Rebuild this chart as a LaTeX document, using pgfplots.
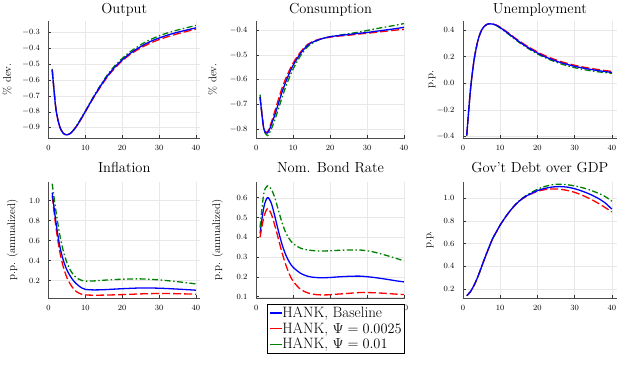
\documentclass[border=0pt]{standalone}
\usepackage{pgfplots}
\pgfplotsset{compat=1.18}
\definecolor{jblue}{RGB}{0,0,255}
\definecolor{jred}{RGB}{255,0,0}
\definecolor{jgreen}{RGB}{0,128,0}

\pgfplotsset{
  irf/.style={
    scale only axis, anchor=south west,
    axis x line*=bottom, axis y line*=left,
    axis line style={black!70, line width=0.9pt, -},
    grid=major, grid style={black!9, line width=0.4pt},
    major tick length=3pt, tick align=inside,
    tick style={black!80, line width=0.5pt},
    xtick={0,10,20,30,40},
    tick label style={font=\fontsize{8}{9}\selectfont},
    xticklabel style={yshift=-4pt},
    yticklabel style={xshift=-5pt, /pgf/number format/.cd, fixed, fixed zerofill, precision=1},
    title style={font=\fontsize{14.5}{16}\selectfont, at={(axis description cs:0.5,1)}, anchor=center},
    ylabel style={font=\fontsize{11}{12}\selectfont, at={(axis description cs:0,0.5)}, anchor=center},
    every axis plot/.append style={line width=1.3pt, smooth, no markers},
  },
  bl/.style={jblue, solid},
  rd/.style={jred, dash pattern=on 8pt off 3pt},
  gr/.style={jgreen, dash pattern=on 6pt off 2.5pt on 1.5pt off 2.5pt},
}
\newcommand{\legline}[1]{\textcolor{#1}{\rule[0.25em]{12pt}{1.4pt}}}

\begin{document}
\begin{tikzpicture}
\useasboundingbox (0pt,0pt) rectangle (625pt,375pt);

% ---------- Output
\begin{axis}[irf, at={(48.5pt,236.7pt)}, width=151.5pt, height=117.6pt,
  xmin=0, xmax=41.1, ymin=-0.967, ymax=-0.227,
  ytick={-0.9,-0.8,-0.7,-0.6,-0.5,-0.4,-0.3},
  title={Output}, title style={yshift=5pt},
  ylabel={\% dev.}, ylabel style={yshift=41.5pt}]
\addplot[gr] coordinates {(1,-0.53) (2,-0.78) (3,-0.89) (4,-0.935) (5,-0.945) (6,-0.935) (7,-0.908) (8,-0.874) (9,-0.835) (10,-0.795) (12,-0.713) (14,-0.637) (16,-0.567) (18,-0.51) (20,-0.465) (22,-0.425) (24,-0.393) (26,-0.365) (28,-0.342) (30,-0.323) (32,-0.306) (34,-0.292) (36,-0.28) (38,-0.268) (40,-0.257)};
\addplot[rd] coordinates {(1,-0.535) (2,-0.78) (3,-0.89) (4,-0.935) (5,-0.945) (6,-0.935) (7,-0.91) (8,-0.878) (9,-0.84) (10,-0.80) (12,-0.72) (14,-0.647) (16,-0.58) (18,-0.525) (20,-0.48) (22,-0.442) (24,-0.412) (26,-0.386) (28,-0.364) (30,-0.346) (32,-0.33) (34,-0.316) (36,-0.303) (38,-0.291) (40,-0.28)};
\addplot[bl] coordinates {(1,-0.535) (2,-0.78) (3,-0.89) (4,-0.935) (5,-0.945) (6,-0.935) (7,-0.91) (8,-0.877) (9,-0.838) (10,-0.798) (12,-0.717) (14,-0.642) (16,-0.574) (18,-0.519) (20,-0.474) (22,-0.435) (24,-0.404) (26,-0.377) (28,-0.354) (30,-0.336) (32,-0.32) (34,-0.306) (36,-0.294) (38,-0.283) (40,-0.272)};
\end{axis}

% ---------- Consumption
\begin{axis}[irf, at={(256pt,236.7pt)}, width=149pt, height=117.6pt,
  xmin=-0.1, xmax=40.3, ymin=-0.836, ymax=-0.3625,
  ytick={-0.8,-0.7,-0.6,-0.5,-0.4},
  title={Consumption}, title style={yshift=5pt},
  ylabel={\% dev.}, ylabel style={yshift=43.5pt}]
\addplot[gr] coordinates {(1,-0.66) (2,-0.795) (3,-0.825) (4,-0.80) (5,-0.762) (6,-0.717) (7,-0.67) (8,-0.627) (9,-0.59) (10,-0.556) (12,-0.503) (14,-0.466) (16,-0.446) (18,-0.434) (20,-0.427) (22,-0.422) (25,-0.415) (28,-0.408) (30,-0.402) (32,-0.396) (35,-0.388) (38,-0.38) (40,-0.374)};
\addplot[rd] coordinates {(1,-0.67) (2,-0.795) (3,-0.81) (4,-0.775) (5,-0.727) (6,-0.678) (7,-0.632) (8,-0.594) (9,-0.561) (10,-0.532) (12,-0.488) (14,-0.457) (16,-0.442) (18,-0.434) (20,-0.429) (22,-0.425) (25,-0.421) (28,-0.416) (30,-0.413) (32,-0.41) (35,-0.405) (38,-0.4) (40,-0.397)};
\addplot[bl] coordinates {(1,-0.67) (2,-0.796) (3,-0.815) (4,-0.783) (5,-0.742) (6,-0.695) (7,-0.648) (8,-0.608) (9,-0.572) (10,-0.541) (12,-0.494) (14,-0.46) (16,-0.444) (18,-0.434) (20,-0.427) (22,-0.423) (25,-0.418) (28,-0.413) (30,-0.41) (32,-0.406) (35,-0.4) (38,-0.394) (40,-0.389)};
\end{axis}

% ---------- Unemployment
\begin{axis}[irf, at={(463pt,236.7pt)}, width=153.7pt, height=117.6pt,
  xmin=0, xmax=41.3, ymin=-0.412, ymax=0.47,
  ytick={-0.4,-0.2,0,0.2,0.4},
  title={Unemployment}, title style={yshift=5pt},
  ylabel={p.p.}, ylabel style={yshift=31pt}]
\addplot[gr] coordinates {(1,-0.395) (2,-0.05) (3,0.18) (4,0.32) (5,0.40) (6,0.435) (7,0.447) (8,0.444) (9,0.433) (10,0.415) (12,0.374) (14,0.33) (16,0.289) (18,0.253) (20,0.221) (22,0.193) (24,0.17) (26,0.149) (28,0.132) (30,0.118) (32,0.106) (34,0.096) (36,0.088) (38,0.081) (40,0.075)};
\addplot[rd] coordinates {(1,-0.39) (2,-0.05) (3,0.18) (4,0.32) (5,0.40) (6,0.435) (7,0.447) (8,0.446) (9,0.437) (10,0.421) (12,0.382) (14,0.34) (16,0.301) (18,0.267) (20,0.236) (22,0.208) (24,0.186) (26,0.166) (28,0.15) (30,0.136) (32,0.124) (34,0.114) (36,0.105) (38,0.097) (40,0.09)};
\addplot[bl] coordinates {(1,-0.39) (2,-0.05) (3,0.18) (4,0.32) (5,0.40) (6,0.435) (7,0.447) (8,0.445) (9,0.435) (10,0.418) (12,0.378) (14,0.335) (16,0.295) (18,0.26) (20,0.228) (22,0.2) (24,0.178) (26,0.158) (28,0.142) (30,0.128) (32,0.116) (34,0.106) (36,0.097) (38,0.089) (40,0.082)};
\end{axis}

% ---------- Inflation
\begin{axis}[irf, at={(48.5pt,76.7pt)}, width=151.5pt, height=116.6pt,
  xmin=0, xmax=41.1, ymin=0.024, ymax=1.19,
  ytick={0.2,0.4,0.6,0.8,1.0},
  title={Inflation}, title style={yshift=8pt},
  ylabel={p.p. (annualized)}, ylabel style={yshift=36pt}]
\addplot[gr] coordinates {(1,1.17) (2,0.9) (3,0.67) (4,0.5) (5,0.38) (6,0.3) (7,0.25) (8,0.22) (9,0.203) (10,0.196) (12,0.197) (15,0.205) (20,0.215) (25,0.218) (30,0.208) (35,0.19) (40,0.168)};
\addplot[rd] coordinates {(1,1.05) (2,0.74) (3,0.5) (4,0.34) (5,0.23) (6,0.16) (7,0.11) (8,0.08) (9,0.065) (10,0.058) (12,0.055) (15,0.056) (20,0.061) (25,0.068) (30,0.072) (35,0.07) (40,0.065)};
\addplot[bl] coordinates {(1,1.08) (2,0.79) (3,0.557) (4,0.407) (5,0.307) (6,0.24) (7,0.19) (8,0.155) (9,0.128) (10,0.113) (12,0.108) (15,0.11) (20,0.12) (25,0.127) (30,0.125) (35,0.116) (40,0.105)};
\end{axis}

% ---------- Nom. Bond Rate
\begin{axis}[irf, at={(256pt,76.7pt)}, width=149pt, height=116.6pt,
  xmin=-0.1, xmax=40.3, ymin=0.092, ymax=0.681,
  ytick={0.1,0.2,0.3,0.4,0.5,0.6},
  title={Nom. Bond Rate}, title style={yshift=8pt},
  ylabel={p.p. (annualized)}, ylabel style={yshift=38.5pt},
  legend style={at={(1,-0.045)}, anchor=north east, draw=black, line width=0.6pt,
    fill=white, font=\fontsize{15}{17}\selectfont, inner sep=2pt,
    nodes={inner sep=1pt}, row sep=1.5pt, cells={anchor=west}},
  legend image code/.code={}]
\addplot[bl, forget plot] coordinates {(1,0.42) (2,0.55) (3,0.6) (4,0.575) (5,0.507) (6,0.43) (7,0.362) (8,0.31) (9,0.273) (10,0.248) (12,0.218) (14,0.203) (16,0.197) (18,0.196) (20,0.197) (22,0.2) (25,0.203) (28,0.204) (30,0.201) (32,0.197) (35,0.189) (38,0.18) (40,0.175)};
\addplot[rd, forget plot] coordinates {(1,0.40) (2,0.50) (3,0.545) (4,0.52) (5,0.46) (6,0.39) (7,0.32) (8,0.26) (9,0.212) (10,0.177) (12,0.137) (14,0.119) (16,0.111) (18,0.109) (20,0.11) (22,0.113) (25,0.117) (28,0.121) (30,0.121) (32,0.12) (35,0.117) (38,0.113) (40,0.111)};
\addplot[gr, forget plot] coordinates {(1,0.45) (2,0.62) (3,0.66) (4,0.645) (5,0.6) (6,0.535) (7,0.472) (8,0.422) (9,0.39) (10,0.368) (12,0.345) (14,0.336) (16,0.332) (18,0.331) (20,0.332) (22,0.334) (25,0.336) (28,0.336) (30,0.332) (32,0.325) (35,0.31) (38,0.293) (40,0.281)};
\addlegendimage{empty legend}
\addlegendentry{\legline{jblue}HANK, Baseline}
\addlegendimage{empty legend}
\addlegendentry{\legline{jred}HANK, $\Psi = 0.0025$}
\addlegendimage{empty legend}
\addlegendentry{\legline{jgreen}HANK, $\Psi = 0.01$}
\end{axis}

% ---------- Gov't Debt over GDP
\begin{axis}[irf, at={(463pt,76.7pt)}, width=153.7pt, height=116.6pt,
  xmin=0, xmax=41.3, ymin=0.118, ymax=1.147,
  ytick={0.2,0.4,0.6,0.8,1.0},
  title={Gov't Debt over GDP}, title style={yshift=8pt},
  ylabel={p.p.}, ylabel style={yshift=33pt}]
\addplot[gr] coordinates {(1,0.141) (2,0.176) (3,0.235) (4,0.309) (5,0.397) (6,0.485) (7,0.568) (8,0.647) (9,0.706) (10,0.765) (12,0.862) (14,0.943) (16,1.003) (18,1.045) (20,1.08) (22,1.105) (24,1.12) (26,1.125) (28,1.12) (30,1.11) (32,1.095) (34,1.075) (36,1.05) (38,1.02) (40,0.975)};
\addplot[rd] coordinates {(1,0.141) (2,0.176) (3,0.235) (4,0.309) (5,0.397) (6,0.485) (7,0.568) (8,0.647) (9,0.706) (10,0.765) (12,0.862) (14,0.94) (16,0.997) (18,1.034) (20,1.062) (22,1.077) (24,1.083) (26,1.081) (28,1.07) (30,1.053) (32,1.028) (34,0.998) (36,0.963) (38,0.923) (40,0.88)};
\addplot[bl] coordinates {(1,0.141) (2,0.176) (3,0.235) (4,0.309) (5,0.397) (6,0.485) (7,0.568) (8,0.647) (9,0.706) (10,0.765) (12,0.862) (14,0.941) (16,1.0) (18,1.038) (20,1.068) (22,1.088) (24,1.1) (26,1.104) (28,1.099) (30,1.085) (32,1.064) (34,1.038) (36,1.006) (38,0.965) (40,0.905)};
\end{axis}
\end{tikzpicture}
\end{document}
